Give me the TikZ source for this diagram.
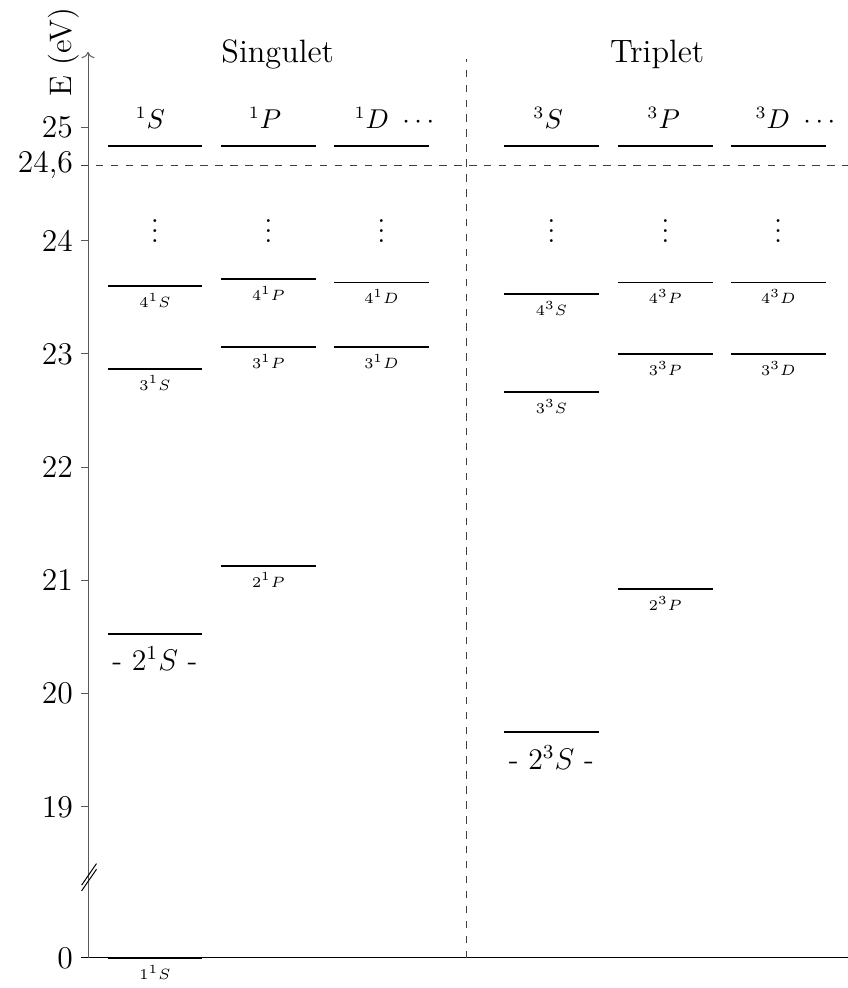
\documentclass[tikz,border=0pt]{standalone}
\usepackage{amsmath, amssymb}
\usepackage{xcolor}
\usepackage{tikz}
\usetikzlibrary{positioning, arrows.meta}

\begin{document}
\begin{tikzpicture}[x=1cm, y=1.6cm, yshift=-28.267cm,
    niveau/.style={thick},
    etiq/.style={below=1pt, inner sep=1.5pt, font=\fontsize{6}{7}\selectfont},
    etiqbas/.style={below=3pt, inner sep=2pt, font=\large},
    entete/.style={font=\fontsize{10.7}{13}\selectfont},
    grad/.style={left, inner sep=3pt, font=\fontsize{12.7}{15}\selectfont},
    axe/.style={gray!70!black},
    pointille/.style={dashed, black!75}]
    \useasboundingbox (-1.243,17.402) rectangle (10.734,26.124);

    % axe des energies
    \coordinate (O) at (0,17.667);
    \coordinate (haut) at (0,25.665);
    \draw (-0.1,17.667) node[grad] (g0) {0} -- (10.734,17.667) coordinate (fin);
    \draw[axe, ->] (O) -- (haut);
    \node[rotate=90, anchor=south, font=\fontsize{12.5}{15}\selectfont] (elab) at (haut) {E (eV)};
    \foreach \v in {19,...,25}
        \draw[axe] (0,\v) -- (-0.1,\v) node[grad, black] (g\v) {\v};
    \draw[pointille] (-0.1,24.666) node[grad, black] (gion) {24,6} -- (10.734,24.666);
    \draw (-0.09,18.31) -- (0.12,18.50);
    \draw (-0.09,18.26) -- (0.12,18.45);

    % separation singulet / triplet
    \draw[pointille] (5.339,17.667) -- (5.339,25.6);
    \node[anchor=base, font=\fontsize{13}{15}\selectfont] (sing) at (2.68,25.575) {Singulet};
    \node[anchor=base, font=\fontsize{13}{15}\selectfont] (trip) at (8.04,25.575) {Triplet};

    % en-tetes des series
    \node[entete, anchor=base] (h1S) at (0.88,24.99) {$^1S$};
    \node[entete, anchor=base] (h1P) at (2.5,24.99) {$^1P$};
    \node[entete, anchor=base west] (h1D) at (3.64,24.99) {$^1D\ \cdots$};
    \node[entete, anchor=base] (h3S) at (6.5,24.99) {$^3S$};
    \node[entete, anchor=base] (h3P) at (8.13,24.99) {$^3P$};
    \node[entete, anchor=base west] (h3D) at (9.305,24.99) {$^3D\ \cdots$};

    % limite d'ionisation
    \draw[niveau] (0.28,24.834) -- (1.61,24.834);
    \draw[niveau] (1.88,24.834) -- (3.22,24.834);
    \draw[niveau] (3.475,24.834) -- (4.815,24.834);
    \draw[niveau] (5.875,24.834) -- (7.215,24.834);
    \draw[niveau] (7.485,24.834) -- (8.825,24.834);
    \draw[niveau] (9.08,24.834) -- (10.42,24.834);

    \node[font=\large] (d1S) at (0.945,24.15) {$\vdots$};
    \node[font=\large] (d1P) at (2.55,24.15) {$\vdots$};
    \node[font=\large] (d1D) at (4.145,24.15) {$\vdots$};
    \node[font=\large] (d3S) at (6.545,24.15) {$\vdots$};
    \node[font=\large] (d3P) at (8.155,24.15) {$\vdots$};
    \node[font=\large] (d3D) at (9.75,24.15) {$\vdots$};

    % singulet
    \draw[niveau] (0.28,23.60) -- (1.61,23.60) node[midway, etiq] (n41S) {$4^1S$};
    \draw[niveau] (0.28,22.87) -- (1.61,22.87) node[midway, etiq] (n31S) {$3^1S$};
    \draw[niveau] (0.28,20.53) -- (1.61,20.53) node[midway, etiqbas] (n21S) {- $2^1S$ -};
    \draw[niveau] (0.28,17.667) -- (1.61,17.667) node[midway, etiq] (n11S) {$1^1S$};
    \draw[niveau] (1.88,23.66) -- (3.22,23.66) node[midway, etiq] (n41P) {$4^1P$};
    \draw[niveau] (1.88,23.06) -- (3.22,23.06) node[midway, etiq] (n31P) {$3^1P$};
    \draw[niveau] (1.88,21.13) -- (3.22,21.13) node[midway, etiq] (n21P) {$2^1P$};
    \draw[niveau] (3.475,23.63) -- (4.815,23.63) node[midway, etiq] (n41D) {$4^1D$};
    \draw[niveau] (3.475,23.06) -- (4.815,23.06) node[midway, etiq] (n31D) {$3^1D$};

    % triplet
    \draw[niveau] (5.875,23.53) -- (7.215,23.53) node[midway, etiq] (n43S) {$4^3S$};
    \draw[niveau] (5.875,22.66) -- (7.215,22.66) node[midway, etiq] (n33S) {$3^3S$};
    \draw[niveau] (5.875,19.66) -- (7.215,19.66) node[midway, etiqbas] (n23S) {- $2^3S$ -};
    \draw[niveau] (7.485,23.63) -- (8.825,23.63) node[midway, etiq] (n43P) {$4^3P$};
    \draw[niveau] (7.485,23.00) -- (8.825,23.00) node[midway, etiq] (n33P) {$3^3P$};
    \draw[niveau] (7.485,20.92) -- (8.825,20.92) node[midway, etiq] (n23P) {$2^3P$};
    \draw[niveau] (9.08,23.63) -- (10.42,23.63) node[midway, etiq] (n43D) {$4^3D$};
    \draw[niveau] (9.08,23.00) -- (10.42,23.00) node[midway, etiq] (n33D) {$3^3D$};
\end{tikzpicture}
\end{document}
